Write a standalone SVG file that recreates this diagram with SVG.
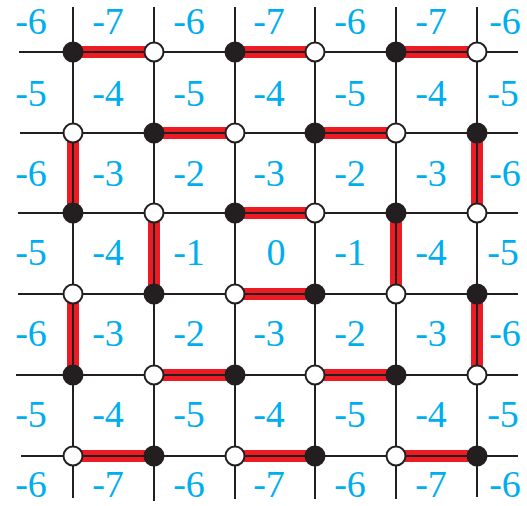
<svg xmlns="http://www.w3.org/2000/svg" width="527" height="506" viewBox="0 0 527 506">
<style>
.red{stroke:#ED1C24;stroke-width:12;fill:none}
.grid{stroke:#231F20;stroke-width:2;fill:none}
.b{fill:#231F20;stroke:#231F20;stroke-width:2}
.w{fill:#FFFFFF;stroke:#231F20;stroke-width:2}
.lbl{font-family:"Liberation Serif",serif;font-size:38px;fill:#00AEEF;text-anchor:middle}
</style>
<rect width="527" height="506" fill="#FFFFFF"/>
<g id="connectors">
<g id="matching">
<line class="red" x1="73" y1="52" x2="154" y2="52"/>
<line class="red" x1="235" y1="52" x2="315" y2="52"/>
<line class="red" x1="396" y1="52" x2="477" y2="52"/>
<line class="red" x1="154" y1="133" x2="235" y2="133"/>
<line class="red" x1="315" y1="133" x2="396" y2="133"/>
<line class="red" x1="73" y1="133" x2="73" y2="213"/>
<line class="red" x1="477" y1="133" x2="477" y2="213"/>
<line class="red" x1="235" y1="213" x2="315" y2="213"/>
<line class="red" x1="154" y1="213" x2="154" y2="294"/>
<line class="red" x1="396" y1="213" x2="396" y2="294"/>
<line class="red" x1="235" y1="294" x2="315" y2="294"/>
<line class="red" x1="73" y1="294" x2="73" y2="375"/>
<line class="red" x1="477" y1="294" x2="477" y2="375"/>
<line class="red" x1="154" y1="375" x2="235" y2="375"/>
<line class="red" x1="315" y1="375" x2="396" y2="375"/>
<line class="red" x1="73" y1="456" x2="154" y2="456"/>
<line class="red" x1="235" y1="456" x2="315" y2="456"/>
<line class="red" x1="396" y1="456" x2="477" y2="456"/>
</g>
<g id="gridlines">
<line class="grid" x1="19" y1="52" x2="518" y2="52"/>
<line class="grid" x1="20" y1="133" x2="518" y2="133"/>
<line class="grid" x1="18" y1="213" x2="518" y2="213"/>
<line class="grid" x1="18" y1="294" x2="518" y2="294"/>
<line class="grid" x1="16" y1="375" x2="518" y2="375"/>
<line class="grid" x1="21" y1="456" x2="518" y2="456"/>
<line class="grid" x1="73" y1="7" x2="73" y2="498"/>
<line class="grid" x1="154" y1="7" x2="154" y2="501"/>
<line class="grid" x1="235" y1="7" x2="235" y2="499"/>
<line class="grid" x1="315" y1="7" x2="315" y2="499"/>
<line class="grid" x1="396" y1="7" x2="396" y2="499"/>
<line class="grid" x1="477" y1="7" x2="477" y2="497"/>
</g>
</g>
<g id="nodes">
<g id="n00"><circle class="b" cx="73" cy="52" r="9.5"/></g>
<g id="n10"><circle class="w" cx="154" cy="52" r="9.5"/></g>
<g id="n20"><circle class="b" cx="235" cy="52" r="9.5"/></g>
<g id="n30"><circle class="w" cx="315" cy="52" r="9.5"/></g>
<g id="n40"><circle class="b" cx="396" cy="52" r="9.5"/></g>
<g id="n50"><circle class="w" cx="477" cy="52" r="9.5"/></g>
<g id="n01"><circle class="w" cx="73" cy="133" r="9.5"/></g>
<g id="n11"><circle class="b" cx="154" cy="133" r="9.5"/></g>
<g id="n21"><circle class="w" cx="235" cy="133" r="9.5"/></g>
<g id="n31"><circle class="b" cx="315" cy="133" r="9.5"/></g>
<g id="n41"><circle class="w" cx="396" cy="133" r="9.5"/></g>
<g id="n51"><circle class="b" cx="477" cy="133" r="9.5"/></g>
<g id="n02"><circle class="b" cx="73" cy="213" r="9.5"/></g>
<g id="n12"><circle class="w" cx="154" cy="213" r="9.5"/></g>
<g id="n22"><circle class="b" cx="235" cy="213" r="9.5"/></g>
<g id="n32"><circle class="w" cx="315" cy="213" r="9.5"/></g>
<g id="n42"><circle class="b" cx="396" cy="213" r="9.5"/></g>
<g id="n52"><circle class="w" cx="477" cy="213" r="9.5"/></g>
<g id="n03"><circle class="w" cx="73" cy="294" r="9.5"/></g>
<g id="n13"><circle class="b" cx="154" cy="294" r="9.5"/></g>
<g id="n23"><circle class="w" cx="235" cy="294" r="9.5"/></g>
<g id="n33"><circle class="b" cx="315" cy="294" r="9.5"/></g>
<g id="n43"><circle class="w" cx="396" cy="294" r="9.5"/></g>
<g id="n53"><circle class="b" cx="477" cy="294" r="9.5"/></g>
<g id="n04"><circle class="b" cx="73" cy="375" r="9.5"/></g>
<g id="n14"><circle class="w" cx="154" cy="375" r="9.5"/></g>
<g id="n24"><circle class="b" cx="235" cy="375" r="9.5"/></g>
<g id="n34"><circle class="w" cx="315" cy="375" r="9.5"/></g>
<g id="n44"><circle class="b" cx="396" cy="375" r="9.5"/></g>
<g id="n54"><circle class="w" cx="477" cy="375" r="9.5"/></g>
<g id="n05"><circle class="w" cx="73" cy="456" r="9.5"/></g>
<g id="n15"><circle class="b" cx="154" cy="456" r="9.5"/></g>
<g id="n25"><circle class="w" cx="235" cy="456" r="9.5"/></g>
<g id="n35"><circle class="b" cx="315" cy="456" r="9.5"/></g>
<g id="n45"><circle class="w" cx="396" cy="456" r="9.5"/></g>
<g id="n55"><circle class="b" cx="477" cy="456" r="9.5"/></g>
</g>
<g id="labels" class="lbl">
<text x="31" y="34">-6</text><text x="108" y="34">-7</text><text x="189" y="34">-6</text><text x="269" y="34">-7</text><text x="350" y="34">-6</text><text x="431" y="34">-7</text><text x="505" y="34">-6</text>
<text x="31" y="106">-5</text><text x="108" y="106">-4</text><text x="189" y="106">-5</text><text x="269" y="106">-4</text><text x="350" y="106">-5</text><text x="431" y="106">-4</text><text x="503" y="106">-5</text>
<text x="31" y="186">-6</text><text x="108" y="186">-3</text><text x="189" y="186">-2</text><text x="269" y="186">-3</text><text x="350" y="186">-2</text><text x="431" y="186">-3</text><text x="505" y="186">-6</text>
<text x="31" y="265">-5</text><text x="108" y="265">-4</text><text x="189" y="265">-1</text><text x="276" y="265">0</text><text x="350" y="265">-1</text><text x="431" y="265">-4</text><text x="503" y="265">-5</text>
<text x="31" y="346">-6</text><text x="108" y="346">-3</text><text x="189" y="346">-2</text><text x="269" y="346">-3</text><text x="350" y="346">-2</text><text x="431" y="346">-3</text><text x="505" y="346">-6</text>
<text x="31" y="427">-5</text><text x="108" y="427">-4</text><text x="189" y="427">-5</text><text x="269" y="427">-4</text><text x="350" y="427">-5</text><text x="431" y="427">-4</text><text x="503" y="427">-5</text>
<text x="31" y="497">-6</text><text x="108" y="497">-7</text><text x="189" y="497">-6</text><text x="269" y="497">-7</text><text x="350" y="497">-6</text><text x="431" y="497">-7</text><text x="505" y="497">-6</text>
</g>
</svg>
